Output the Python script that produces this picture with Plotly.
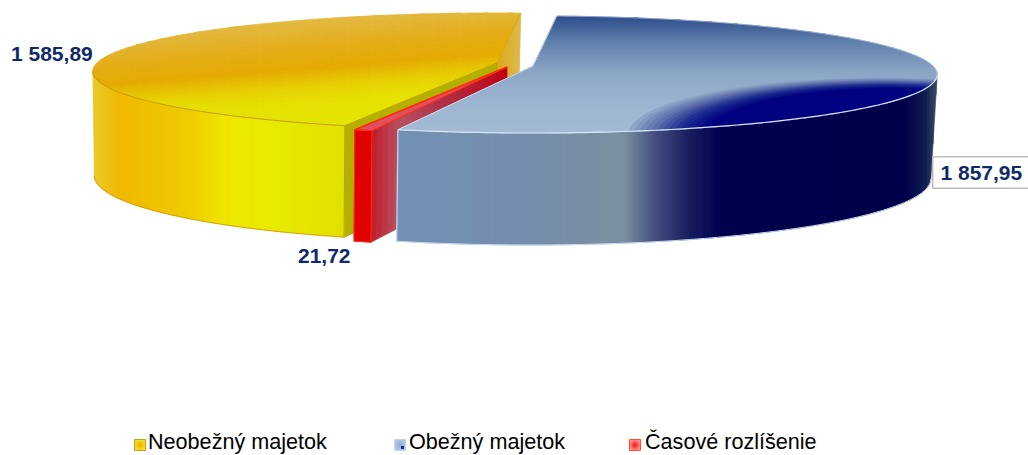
import math
import plotly.graph_objects as go

# ---- data ----
categories = ["Neobežný majetok", "Obežný majetok", "Časové rozlíšenie"]
values = [1585.89, 1857.95, 21.72]
value_labels = ["1 585,89", "1 857,95", "21,72"]

# ---- styling ----
START_DEG = 3.9            # the blue slice starts here, clockwise from 12 o'clock
CENTERS = {"y": (497, 63), "b": (533, 66), "r": (507, 67)}
F, G, K = 400.0, 57.3, 0.145
YELLOW_TOP = [(10, "#E4BE4C"), (30, "#E3B535"), (50, "#E4AC14"), (70, "#E5AA00"), (88, "#E6D000"), (103, "#E6E000"), (135, "#E5E500")]
BLUE_TOP = [(16, "#2C4C8C"), (40, "#5C7CAA"), (70, "#8AA4C4"), (100, "#9CB4D0"), (135, "#A4BAD4")]
YELLOW_WALL = [(91, "#E8CC30"), (120, "#F0B800"), (190, "#F0CC00"), (225, "#F0E600"), (270, "#E8EA00"), (345, "#E2E000")]
BLUE_WALL = [(397, "#7292B4"), (520, "#768EAE"), (625, "#7A90A0"), (655, "#454F80"), (690, "#181E60"), (720, "#00004E"), (905, "#00004A"), (925, "#101C50"), (937, "#3A4A66")]


def hex2rgb(h):
    return tuple(int(h[i:i + 2], 16) for i in (1, 3, 5))


def ramp(stops, t):
    if t <= stops[0][0]:
        return stops[0][1]
    for (a, ca), (b, cb) in zip(stops, stops[1:]):
        if t <= b:
            f = (t - a) / (b - a)
            p, q = hex2rgb(ca), hex2rgb(cb)
            return "#%02X%02X%02X" % tuple(round(p[i] + (q[i] - p[i]) * f) for i in range(3))
    return stops[-1][1]


def top(key, deg):
    th = math.radians(deg)
    u, v = math.sin(th), -math.cos(th)
    d = 1 - K * v
    cx, cy = CENTERS[key]
    return cx + F * u / d, cy + G * v / d


def bottom(key, deg):
    th = math.radians(deg)
    v = -math.cos(th)
    x, y = top(key, deg)
    return x + (261 - x) * 0.0095, y + 103 / (1 - 0.08 * v)


def arc(key, a, b, fn=top, step=1.0):
    n = max(2, int(abs(b - a) / step))
    return [fn(key, a + (b - a) * i / n) for i in range(n + 1)]


def clip_half(poly, inside, cross):
    out = []
    for i, p in enumerate(poly):
        q = poly[(i + 1) % len(poly)]
        ip, iq = inside(p), inside(q)
        if ip:
            out.append(p)
        if ip != iq:
            out.append(cross(p, q))
    return out


def clip_axis(poly, idx, lo, hi):
    def cr(level):
        def c(p, q):
            f = (level - p[idx]) / (q[idx] - p[idx])
            return (p[0] + (q[0] - p[0]) * f, p[1] + (q[1] - p[1]) * f)
        return c
    r = clip_half(poly, lambda p: p[idx] >= lo, cr(lo))
    if r:
        r = clip_half(r, lambda p: p[idx] <= hi, cr(hi))
    return r


def clip_convex(poly, clipper):
    for a, b in zip(clipper, clipper[1:] + clipper[:1]):
        if not poly:
            break
        side = lambda p: (b[0] - a[0]) * (p[1] - a[1]) - (b[1] - a[1]) * (p[0] - a[0]) >= 0

        def cross(p, q):
            d1 = (b[0] - a[0]) * (p[1] - a[1]) - (b[1] - a[1]) * (p[0] - a[0])
            d2 = (b[0] - a[0]) * (q[1] - a[1]) - (b[1] - a[1]) * (q[0] - a[0])
            f = d1 / (d1 - d2)
            return (p[0] + (q[0] - p[0]) * f, p[1] + (q[1] - p[1]) * f)
        poly = clip_half(poly, side, cross)
    return poly


fig = go.Figure()


def fill(poly, color, lw=0.8, line=None):
    if len(poly) < 3:
        return
    xs = [p[0] for p in poly] + [poly[0][0]]
    ys = [p[1] for p in poly] + [poly[0][1]]
    fig.add_trace(go.Scatter(x=xs, y=ys, mode="lines", fill="toself", fillcolor=color,
                             line=dict(color=line or color, width=lw, simplify=False),
                             hoverinfo="skip", showlegend=False))


def stroke(pts, color, w=1.0):
    fig.add_trace(go.Scatter(x=[p[0] for p in pts], y=[p[1] for p in pts], mode="lines",
                             line=dict(color=color, width=w, simplify=False), hoverinfo="skip", showlegend=False))


def wall(key, a, b, stops, step=3):
    poly = arc(key, a, b, step=0.5) + arc(key, b, a, bottom, step=0.5)
    xs = [p[0] for p in poly]
    x = math.floor(min(xs))
    while x < max(xs):
        fill(clip_axis(poly, 0, x, x + step), ramp(stops, x + step / 2), 0.6)
        x += step


def top_face(poly, stops, step=2, shear=0.0, x0=300):
    warped = [(p[0], p[1] + shear * (p[0] - x0)) for p in poly]
    ys = [p[1] for p in warped]
    y = math.floor(min(ys))
    while y < max(ys):
        band = clip_axis(warped, 1, y, y + step)
        fill([(p[0], p[1] - shear * (p[0] - x0)) for p in band], ramp(stops, y + step / 2))
        y += step


def lerp(p, q, f):
    return (p[0] + (q[0] - p[0]) * f, p[1] + (q[1] - p[1]) * f)


# angles from the values, clockwise: blue, red, yellow
total = sum(values)
blue_a = START_DEG
blue_b = blue_a + values[1] / total * 360
red_a, red_b = blue_b, blue_b + values[2] / total * 360
yel_a, yel_b = red_b, START_DEG + 360
# angles of the left and right silhouette of the perspective disc
SIL_R = math.degrees(math.acos(-K))
SIL_L = 360 - SIL_R

# --- yellow slice ---
apex = CENTERS["y"]
apex_b = (apex[0], apex[1] + 105)
te, be = top("y", yel_b), bottom("y", yel_b)
n = 12
for i in range(n):
    f0, f1 = i / n, (i + 1) / n
    fill([lerp(apex, te, f0), lerp(apex, te, f1), lerp(apex_b, be, f1), lerp(apex_b, be, f0)],
         ramp([(0, "#DCA818"), (1, "#DCB84C")], f0))
ts, bs = top("y", yel_a), bottom("y", yel_a)
fill([apex, ts, bs, apex_b], "#B2B000", 1, "#B2A000")
wall("y", yel_a, SIL_L, YELLOW_WALL)
yel_poly = [apex] + arc("y", yel_a, yel_b)
top_face(yel_poly, YELLOW_TOP, shear=0.08)
stroke(arc("y", yel_a, SIL_L), "#C89A10", 1)
stroke(arc("y", yel_a, SIL_L, bottom), "#D0A010", 1)
stroke([apex, ts, bs], "#C09A00", 1)
stroke([apex, te], "#D0A820", 0.8)

# --- red slice ---
ra = CENTERS["r"]
ra_b = (ra[0], ra[1] + 105)
rt, rb = top("r", red_a), bottom("r", red_a)
for i in range(24):
    f0, f1 = i / 24, (i + 1) / 24
    fill([lerp(rt, ra, f0), lerp(rt, ra, f1), lerp(rb, ra_b, f1), lerp(rb, ra_b, f0)],
         ramp([(0, "#C02030"), (0.18, "#B85060"), (0.5, "#B03048"), (1, "#C00010")], f0))
fill(arc("r", red_a, red_b, step=0.5) + arc("r", red_b, red_a, bottom, step=0.5), "#E00000")
red_top = [ra] + arc("r", red_a, red_b, step=0.5)
fill(red_top, "#E25060", 1, "#FF2A10")
stroke([top("r", red_b), bottom("r", red_b), bottom("r", red_a), top("r", red_a), top("r", red_b)], "#FF3010", 1)
stroke([ra, top("r", red_b)], "#FF2A10", 1.6)

# --- blue slice ---
wall("b", SIL_R, blue_b, BLUE_WALL)
b_apex = CENTERS["b"]
blue_poly = [b_apex] + arc("b", blue_a, blue_b)
top_face(blue_poly, BLUE_TOP)
full_rim = arc("b", 0, 359, step=3)
patch_n = 14
for i in range(patch_n):
    f = i / (patch_n - 1)
    ex = 880 + 10 * f
    ey = 135 + 4 * f
    rx = 252 - 62 * f
    ry = 57.5 - 7 * f
    ell = [(ex + rx * math.cos(math.radians(t)), ey + ry * math.sin(math.radians(t))) for t in range(0, 360, 4)]
    clipped = clip_convex(ell, full_rim)
    fill(clipped, ramp([(0, "#8EA6C6"), (0.3, "#6070AC"), (0.65, "#1C2C90"), (1, "#000080")], f), 0.5)
stroke(arc("b", SIL_R, blue_b), "#D8E6F4", 1.2)
stroke(arc("b", blue_a, SIL_R), "#C4D4E8", 0.6)
stroke(arc("b", SIL_R, blue_b, bottom), "#C8DCF4", 1)
stroke([top("b", blue_b), bottom("b", blue_b)], "#C8DCF4", 1.2)
stroke([top("b", blue_b), b_apex, top("b", blue_a)], "#D8E6F4", 0.8)

# --- legend as real markers + text ---
legend_colors = ["#F8E020", "#B4C8E4", "#FF9090"]
legend_edges = ["#E8B000", "#8CA8D4", "#F01808"]
legend_lines = ["#C8A020", "#C4D4EC", "#FF5030"]
legend_x = [140, 400, 635]
legend_tx = [146, 407, 643]
fig.add_trace(go.Scatter(x=legend_x, y=[445, 445, 445], mode="markers", showlegend=False, hoverinfo="skip",
                         marker=dict(symbol="square", size=11, color=legend_colors,
                                     gradient=dict(type="radial", color=legend_edges),
                                     line=dict(color=legend_lines, width=1))))
fig.add_trace(go.Scatter(x=[402.5], y=[447.5], mode="markers", showlegend=False, hoverinfo="skip",
                         marker=dict(symbol="square", size=3, color="#1C2C90", line=dict(width=0))))
ann = [dict(x=tx, y=441, text=c, showarrow=False, xanchor="left", yanchor="middle", xref="x", yref="y",
            font=dict(family="Liberation Sans", size=21.6, color="#000000"))
       for tx, c in zip(legend_tx, categories)]

label_font = dict(family="Liberation Sans", size=21, color="#10296B")
ann.append(dict(x=52, y=53, text="<b>%s</b>" % value_labels[0], showarrow=False, xref="x", yref="y", font=label_font))
ann.append(dict(x=981, y=172, text="<b>%s</b>" % value_labels[1], showarrow=False, xref="x", yref="y", font=label_font,
                width=92, height=26, align="center",
                bgcolor="#FFFFFF", bordercolor="#BDBDBD", borderwidth=1.5, borderpad=2))
ann.append(dict(x=324, y=255, text="<b>%s</b>" % value_labels[2], showarrow=False, xref="x", yref="y", font=label_font))

fig.update_layout(width=1028, height=455, margin=dict(l=0, r=0, t=0, b=0), paper_bgcolor="#FFFFFF",
                  plot_bgcolor="#FFFFFF", showlegend=False, annotations=ann,
                  xaxis=dict(range=[0, 1028], visible=False, fixedrange=True),
                  yaxis=dict(range=[455, 0], visible=False, fixedrange=True))
fig.write_html("out.html", config={"displayModeBar": False},
               post_script="document.body.style.margin='0';document.body.style.overflow='hidden';")
